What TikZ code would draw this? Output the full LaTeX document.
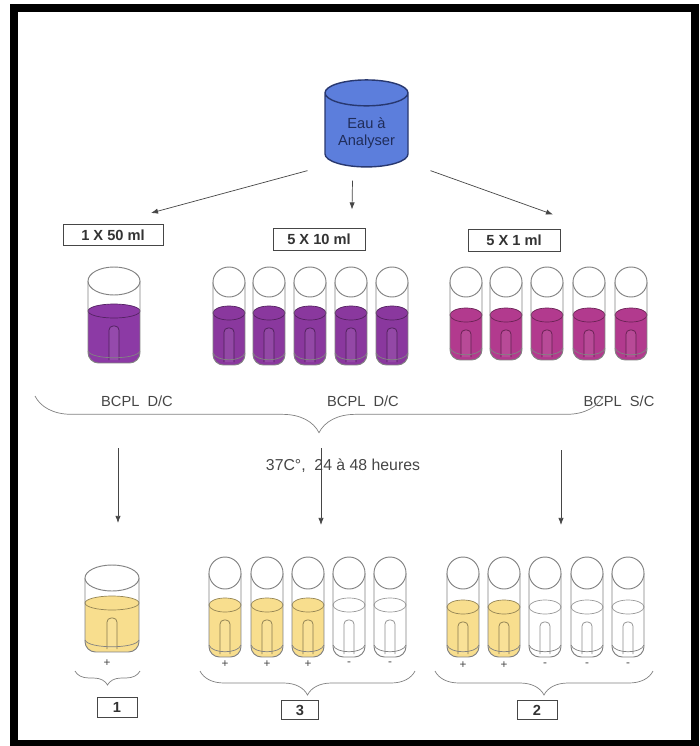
\documentclass[tikz,border=0pt]{standalone}
\usepackage{fontspec}
\setmainfont{Liberation Sans}
\usetikzlibrary{shapes.geometric, arrows.meta, positioning, calc, decorations.pathreplacing}

\definecolor{waterblue}{RGB}{92,126,220}
\definecolor{waterline}{RGB}{40,56,112}
\definecolor{violetA}{RGB}{140,58,165}
\definecolor{violetB}{RGB}{138,56,158}
\definecolor{magentaC}{RGB}{178,58,142}
\definecolor{acidyellow}{RGB}{248,222,142}
\definecolor{glass}{RGB}{130,130,130}
\definecolor{ink}{RGB}{70,70,70}

\tikzset{
    labelbox/.style={draw=ink, semithick, fill=white, text=black!80, font=\bfseries\fontsize{12.5}{14}\selectfont, minimum height=0.64cm, inner sep=1pt},
    countbox/.style={labelbox, minimum width=1.2cm, minimum height=0.58cm},
    caption/.style={text=ink, font=\fontsize{12.5}{15}\selectfont},
    arrow/.style={-{Latex[length=6pt, width=4.5pt]}, draw=ink, semithick},
    bracket/.style={draw=glass, semithick, decorate, decoration={brace, mirror, amplitude=#1}},
    sign/.style={text=ink, font=\fontsize{10}{11}\selectfont, inner sep=0pt},
    glassline/.style={draw=glass, line width=0.8pt}
}

% glass vessel: centre x, half width, mouth y, mouth half height, liquid level, bottom y, liquid colour
\newcommand{\vessel}[7]{%
    \begin{scope}
        \clip[rounded corners=9pt] (#1-#2,#3) -- (#1-#2,#6) -- (#1+#2,#6) -- (#1+#2,#3) -- cycle;
        \fill[#7] (#1-#2,#5) rectangle (#1+#2,#6);
    \end{scope}
    % small inverted tube inside
    \filldraw[fill=#7!92!white, draw=#7!55!black, line width=0.6pt, rounded corners=3.5pt] (#1-5,#6-3) -- (#1-5,#5+15) -- (#1+5,#5+15) -- (#1+5,#6-3);
    \draw[glassline, line width=0.6pt] (#1-#2,#6-12) .. controls (#1-#2+3,#6-3) and (#1+#2-3,#6-3) .. (#1+#2,#6-12);
    \filldraw[fill=#7, draw=#7!60!black, line width=0.6pt] (#1,#5) ellipse [x radius=#2, y radius=7];
    \draw[glassline, rounded corners=9pt] (#1-#2,#3) -- (#1-#2,#6) -- (#1+#2,#6) -- (#1+#2,#3);
    \filldraw[glassline, fill=white] (#1,#3) ellipse [x radius=#2, y radius=#4];
}

\begin{document}
\begin{tikzpicture}[x=0.03cm, y=-0.03cm]
    \useasboundingbox (0,0) rectangle (700,746);
    \fill[white] (0,0) rectangle (700,746);
    \draw[black, line width=0.24cm] (14,8) rectangle (695,744);

    % water sample
    \node[cylinder, shape border rotate=90, aspect=0.4, draw=waterline, line width=1.2pt, fill=waterblue,
          minimum width=2.49cm, minimum height=2.61cm, align=center, text=waterline!80!black,
          font=\fontsize{12.5}{15}\selectfont] (source) at (366.5,133) {Eau à\\Analyser};

    % volumes
    \node[labelbox, minimum width=3cm] (box50) at (113,235) {1 X 50 ml};
    \node[labelbox, minimum width=2.76cm] (box10) at (319,239.5) {5 X 10 ml};
    \node[labelbox, minimum width=2.76cm] (box1) at (514,240.5) {5 X 1 ml};

    \draw[arrow] ($(source.south)+(-59,3)$) -- ($(box50.north)+(38,-11)$);
    \draw[arrow] ($(source.south)+(-14,13)$) -- ($(box10.north)+(33,-19)$);
    \draw[arrow] ($(source.south)+(64,3)$) -- ($(box1.north)+(39,-15)$);

    % inoculated media
    \vessel{114}{26}{281}{14}{311}{363}{violetA}
    \foreach \x in {229,269,310,351,392} {
        \vessel{\x}{16}{282}{15}{313}{365}{violetB}
    }
    \foreach \x in {466,506,547,589,631} {
        \vessel{\x}{16}{282}{15}{315}{360}{magentaC}
    }

    \node[caption] (medium1) at (137,401) {BCPL\ \ D/C};
    \node[caption] (medium2) at (363,401) {BCPL\ \ D/C};
    \node[caption] (medium3) at (619,401) {BCPL\ \ S/C};
    \draw[bracket=1.1cm] (35,396) -- (603,396);

    % incubation
    \node[caption, font=\fontsize{13.5}{16}\selectfont] (incub) at (343,466) {37C°,\ \ 24 à 48 heures};
    \coordinate (from1) at (118,448);  \coordinate (to1) at (118,523);
    \coordinate (from2) at (321,448);  \coordinate (to2) at (321,525);
    \coordinate (from3) at (561,450);  \coordinate (to3) at (561,525);
    \draw[arrow] (from1) -- (to1);
    \draw[arrow] (from2) -- (to2);
    \draw[arrow] (from3) -- (to3);

    % results
    \vessel{112}{27}{578}{13}{603}{652}{acidyellow}
    \node[sign] (sign50) at (107,663) {+};
    \foreach \x/\c/\s in {225/acidyellow/+, 267/acidyellow/+, 308/acidyellow/+, 349/white/-, 390/white/-} {
        \vessel{\x}{16}{573}{16}{605}{657}{\c}
        \node[sign] (sign\x) at (\x,664) {\s};
    }
    \foreach \x/\c/\s in {463/acidyellow/+, 504/acidyellow/+, 545/white/-, 587/white/-, 628/white/-} {
        \vessel{\x}{16}{573}{16}{607}{657}{\c}
        \node[sign] (sign\x) at (\x,665) {\s};
    }

    \draw[bracket=0.42cm] (75,671) -- (140,671);
    \draw[bracket=0.72cm] (200,671) -- (415,671);
    \draw[bracket=0.72cm] (435,671) -- (653,671);

    \node[countbox] (count1) at (117,707.5) {1};
    \node[countbox, minimum width=1.1cm] (count3) at (300,710) {3};
    \node[countbox] (count2) at (537,710) {2};
\end{tikzpicture}
\end{document}
